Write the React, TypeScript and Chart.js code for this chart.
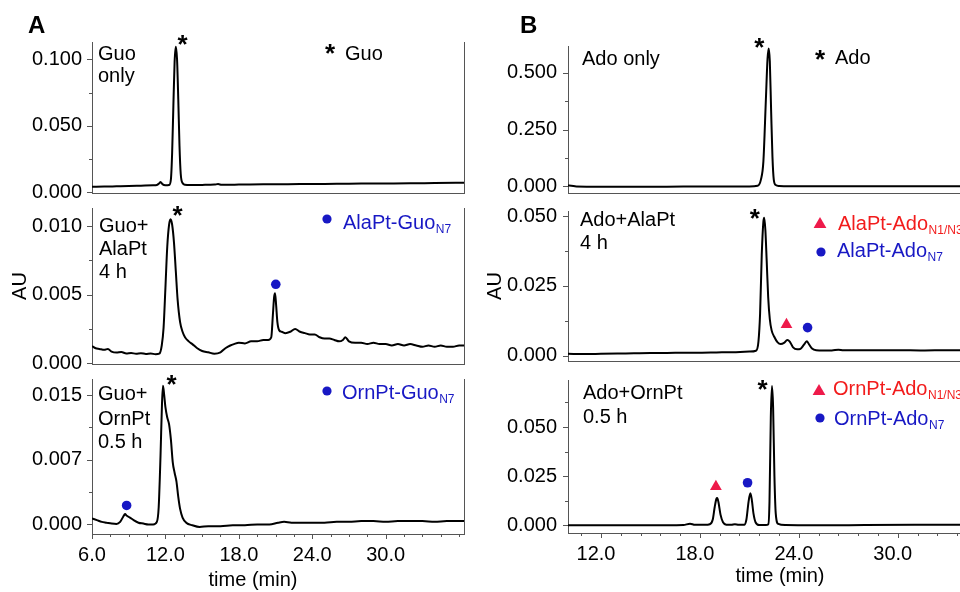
import React, { useEffect, useRef } from 'react';
import { Chart, registerables } from 'chart.js';

Chart.register(...registerables);

const FONT = "'Liberation Sans', Arial, Helvetica, sans-serif";
const AXIS = '#555555';
const BLUE = '#1818c4';
const RED_MARK = '#ee1a4a';
const RED_TEXT = '#f21c1c';

type Pt = [number, number];

// ---------------- data: [time (min), AU] ----------------
const guoOnly: Pt[] = [
  [6.0, 0.0042], [7.0, 0.0043], [8.0, 0.0045], [9.0, 0.0047], [10.0, 0.005], [11.0, 0.0053],
  [11.3, 0.0055], [11.5, 0.0068], [11.6, 0.0078], [11.75, 0.0062], [12.0, 0.0053], [12.3, 0.0055],
  [12.45, 0.01], [12.55, 0.03], [12.65, 0.065], [12.75, 0.098], [12.85, 0.1095], [12.95, 0.1],
  [13.05, 0.07], [13.15, 0.035], [13.25, 0.014], [13.4, 0.007], [13.6, 0.0057], [14.0, 0.0055],
  [15.0, 0.0056], [16.0, 0.0058], [16.3, 0.0062], [16.6, 0.0057], [18.0, 0.0058], [20.0, 0.006],
  [22.0, 0.0061], [24.0, 0.0063], [26.0, 0.0064], [28.0, 0.0066], [30.0, 0.0067], [32.0, 0.0068],
  [34.0, 0.007], [36.4, 0.0072],
];

const guoAlaPt: Pt[] = [
  [6.0, 0.00125], [6.3, 0.0011], [6.6, 0.00105], [7.0, 0.00098], [7.3, 0.00105], [7.6, 0.00085],
  [8.0, 0.00078], [8.4, 0.00082], [8.8, 0.00072], [9.2, 0.00075], [9.6, 0.0007], [10.0, 0.00074],
  [10.4, 0.00068], [10.8, 0.00072], [11.2, 0.00066], [11.5, 0.0007], [11.7, 0.0013], [11.85, 0.0026],
  [12.0, 0.0055], [12.15, 0.0085], [12.3, 0.0101], [12.42, 0.0105], [12.55, 0.0101], [12.7, 0.0088],
  [12.85, 0.0067], [13.0, 0.0046], [13.2, 0.003], [13.4, 0.0023], [13.6, 0.0019], [13.9, 0.0016],
  [14.2, 0.0014], [14.6, 0.0011], [15.0, 0.0009], [15.5, 0.0008], [16.0, 0.0007], [16.5, 0.0008],
  [16.9, 0.0011], [17.3, 0.0013], [17.6, 0.0014], [18.0, 0.0015], [18.5, 0.00145], [19.0, 0.0016],
  [19.5, 0.0016], [20.0, 0.0017], [20.4, 0.0017], [20.65, 0.0019], [20.78, 0.0035], [20.88, 0.0048],
  [20.96, 0.0051], [21.05, 0.0042], [21.15, 0.003], [21.3, 0.0024], [21.5, 0.0023], [21.8, 0.0022],
  [22.2, 0.0023], [22.6, 0.0025], [23.0, 0.0023], [23.4, 0.0022], [23.8, 0.0021], [24.2, 0.0021],
  [24.6, 0.0019], [25.0, 0.0018], [25.4, 0.0018], [25.8, 0.0017], [26.2, 0.0016], [26.5, 0.0017],
  [26.7, 0.0019], [27.0, 0.0016], [27.5, 0.0015], [28.0, 0.0015], [28.5, 0.0014], [29.0, 0.0015],
  [29.5, 0.0014], [30.0, 0.0014], [30.5, 0.0013], [31.0, 0.0014], [31.5, 0.0013], [32.0, 0.0014],
  [32.5, 0.0013], [33.0, 0.0012], [33.5, 0.0013], [34.0, 0.0012], [34.5, 0.0013], [35.0, 0.0012],
  [35.5, 0.0012], [36.0, 0.0013], [36.4, 0.0013],
];

const guoOrnPt: Pt[] = [
  [6.0, 0.0007], [6.4, 0.0005], [6.8, 0.0003], [7.2, 0.0002], [7.6, 0.0001], [8.0, 0.00005],
  [8.3, 0.0003], [8.55, 0.0009], [8.7, 0.0012], [8.85, 0.001], [9.1, 0.0008], [9.4, 0.0005],
  [9.8, 0.0002], [10.2, 0.0001], [10.6, 0.0], [11.0, 0.0], [11.3, 0.0003], [11.45, 0.002],
  [11.6, 0.008], [11.72, 0.014], [11.8, 0.0161], [11.9, 0.015], [12.0, 0.0136], [12.15, 0.0124],
  [12.3, 0.0116], [12.45, 0.0098], [12.6, 0.0072], [12.75, 0.006], [12.9, 0.005], [13.05, 0.0032],
  [13.2, 0.0018], [13.4, 0.0008], [13.7, 0.0002], [14.2, -0.0001], [14.8, -0.0003], [15.5, -0.0002],
  [16.5, -0.0002], [17.5, -0.0001], [18.5, -0.0001], [19.5, 0.0], [20.5, 0.0], [21.2, 0.0002],
  [21.7, 0.0003], [22.3, 0.0002], [23.0, 0.0002], [24.0, 0.0002], [25.0, 0.0002], [26.0, 0.0003],
  [27.0, 0.0003], [28.0, 0.0004], [29.0, 0.0004], [30.0, 0.0003], [31.0, 0.0004], [32.0, 0.0004],
  [33.0, 0.0004], [34.0, 0.0003], [35.0, 0.0004], [36.4, 0.0004],
];

const adoOnly: Pt[] = [
  [10.0, 0.004], [10.2, 0.003], [10.5, 0.0], [12.0, -0.001], [14.0, -0.001], [16.0, -0.001],
  [18.0, 0.0], [20.0, 0.0], [21.0, 0.0], [21.5, 0.003], [21.7, 0.03], [21.85, 0.11], [22.0, 0.38],
  [22.1, 0.56], [22.17, 0.607], [22.24, 0.55], [22.32, 0.33], [22.4, 0.13], [22.48, 0.03],
  [22.6, 0.006], [22.8, 0.002], [23.5, 0.001], [25.0, 0.001], [28.0, 0.001], [31.0, 0.001],
  [34.0, 0.001], [36.2, 0.001],
];

const adoAlaPt: Pt[] = [
  [10.0, 0.0006], [11.0, 0.0005], [12.0, 0.0006], [13.0, 0.0007], [14.0, 0.0008], [15.0, 0.0009],
  [16.0, 0.0009], [17.0, 0.001], [18.0, 0.001], [19.0, 0.0011], [20.0, 0.0012], [21.0, 0.0014],
  [21.4, 0.0017], [21.55, 0.005], [21.65, 0.015], [21.75, 0.036], [21.85, 0.048], [21.9, 0.0494],
  [21.97, 0.045], [22.05, 0.034], [22.14, 0.021], [22.24, 0.013], [22.35, 0.009], [22.5, 0.0068],
  [22.7, 0.0048], [22.9, 0.0041], [23.1, 0.0045], [23.3, 0.0056], [23.45, 0.005], [23.65, 0.0029],
  [23.9, 0.0022], [24.1, 0.0024], [24.3, 0.0038], [24.48, 0.0051], [24.62, 0.004], [24.8, 0.0025],
  [25.05, 0.0019], [25.5, 0.0018], [26.0, 0.0018], [26.4, 0.0021], [26.7, 0.0019], [27.5, 0.0019],
  [28.5, 0.0019], [30.0, 0.0019], [31.5, 0.0018], [33.0, 0.0019], [34.5, 0.0019], [36.2, 0.0019],
];

const adoOrnPt: Pt[] = [
  [10.0, 0.0001], [12.0, 0.0001], [14.0, 0.0001], [16.0, 0.0001], [17.0, 0.0002], [17.4, 0.0009],
  [17.7, 0.0003], [18.3, 0.0003], [18.6, 0.0006], [18.78, 0.003], [18.9, 0.0095], [19.0, 0.0135],
  [19.05, 0.0139], [19.12, 0.012], [19.25, 0.0055], [19.4, 0.0016], [19.6, 0.0004], [19.9, 0.0003],
  [20.12, 0.0006], [20.35, 0.0003], [20.7, 0.0004], [20.82, 0.003], [20.95, 0.012], [21.06, 0.0163],
  [21.14, 0.0135], [21.25, 0.006], [21.38, 0.0015], [21.6, 0.0002], [22.0, 0.0002], [22.15, 0.0006],
  [22.22, 0.012], [22.3, 0.055], [22.37, 0.0708], [22.44, 0.06], [22.52, 0.025], [22.6, 0.006],
  [22.75, 0.0008], [23.2, 0.0002], [25.0, 0.0001], [28.0, 0.0002], [31.0, 0.0003], [34.0, 0.0004],
  [36.2, 0.0004],
];

// peak markers [time, AU]
const guoAlaPtN7Dots: Pt[] = [[21.02, 0.00576]];
const guoOrnPtN7Dots: Pt[] = [[8.83, 0.0022]];
const adoAlaPtN13Tris: Pt[] = [[23.25, 0.0111]];
const adoAlaPtN7Dots: Pt[] = [[24.53, 0.01]];
const adoOrnPtN13Tris: Pt[] = [[18.97, 0.0197]];
const adoOrnPtN7Dots: Pt[] = [[20.89, 0.0217]];

// main-peak asterisks [time, AU]
const guoOnlyStar: Pt[] = [[13.4, 0.1125]];
const guoAlaPtStar: Pt[] = [[13.0, 0.0109]];
const guoOrnPtStar: Pt[] = [[12.5, 0.0165]];
const adoOnlyStar: Pt[] = [[21.6, 0.622]];
const adoAlaPtStar: Pt[] = [[21.33, 0.0498]];
const adoOrnPtStar: Pt[] = [[21.8, 0.07]];

// axis ticks
const guoTimeTicks = [6, 7.5, 9, 10.5, 12, 13.5, 15, 16.5, 18, 19.5, 21, 22.5, 24, 25.5, 27, 28.5, 30, 31.5, 33, 34.5, 36];
const guoTimeLabels = [6, 12, 18, 24, 30];
const adoTimeTicks = [10.8, 12, 13.2, 14.4, 15.6, 16.8, 18, 19.2, 20.4, 21.6, 22.8, 24, 25.2, 26.4, 27.6, 28.8, 30, 31.2, 32.4, 33.6, 34.8, 36];
const adoTimeLabels = [12, 18, 24, 30];

const guoOnlyYTicks = [0, 0.025, 0.05, 0.075, 0.1];
const guoOnlyYMajor = [0, 0.05, 0.1];
const guoOnlyYLabels = ['0.000', '0.050', '0.100'];
const guoAlaPtYTicks = [0, 0.0025, 0.005, 0.0075, 0.01];
const guoAlaPtYMajor = [0, 0.005, 0.01];
const guoAlaPtYLabels = ['0.000', '0.005', '0.010'];
const guoOrnPtYTicks = [0, 0.00375, 0.0075, 0.01125, 0.015];
const guoOrnPtYMajor = [0, 0.0075, 0.015];
const guoOrnPtYLabels = ['0.000', '0.007', '0.015'];
const adoOnlyYTicks = [0, 0.125, 0.25, 0.375, 0.5];
const adoOnlyYMajor = [0, 0.25, 0.5];
const adoOnlyYLabels = ['0.000', '0.250', '0.500'];
const adoAlaPtYTicks = [0, 0.0125, 0.025, 0.0375, 0.05];
const adoAlaPtYMajor = [0, 0.025, 0.05];
const adoAlaPtYLabels = ['0.000', '0.025', '0.050'];
const adoOrnPtYTicks = [0, 0.0125, 0.025, 0.0375, 0.05, 0.0625];
const adoOrnPtYMajor = [0, 0.025, 0.05];
const adoOrnPtYLabels = ['0.000', '0.025', '0.050'];

// ---------------- layout ----------------
interface TextItem {
  x: number; y: number; text: string; sub?: string; color?: string;
  size?: number; bold?: boolean; align?: CanvasTextAlign;
}
interface KeyMark { x: number; y: number; shape: 'dot' | 'tri' | 'star'; color: string }

interface PanelSpec {
  id: string;
  canvas: { left: number; top: number; width: number; height: number };
  plot: { left: number; top: number; right: number; bottom: number };
  xMin: number; xMax: number; yMin: number; yMax: number;
  xTicks: number[]; xMajor: number[]; showX: boolean; xLabelOffset: number;
  yTicks: number[]; yMajor: number[]; yLabels: string[]; yPad: number;
  yTitle?: string; yTitlePad?: number;
  trace: Pt[]; dots: Pt[]; tris: Pt[]; stars: Pt[];
  texts: TextItem[]; keys: KeyMark[]; rightBorder: boolean;
}

const near = (list: number[], v: number) => list.findIndex((m) => Math.abs(m - v) < 1e-9);

function drawStar(ctx: CanvasRenderingContext2D, x: number, y: number, color = '#000') {
  ctx.font = `bold 26px ${FONT}`;
  ctx.fillStyle = color;
  ctx.textAlign = 'center';
  ctx.textBaseline = 'alphabetic';
  ctx.fillText('*', x, y + 10.5);
}

function makePlugin(s: PanelSpec) {
  return {
    id: 'annot-' + s.id,
    afterDatasetsDraw(chart: any) {
      const ctx: CanvasRenderingContext2D = chart.ctx;
      const ca = chart.chartArea;
      const xs = chart.scales.x;
      const ys = chart.scales.y;
      const ox = s.canvas.left;
      const oy = s.canvas.top;
      ctx.save();
      ctx.strokeStyle = AXIS;
      ctx.lineWidth = 1;
      ctx.beginPath();
      for (const v of s.yTicks) {
        const y = Math.round(ys.getPixelForValue(v)) + 0.5;
        const len = near(s.yMajor, v) >= 0 ? 5 : 3;
        ctx.moveTo(ca.left - len, y);
        ctx.lineTo(ca.left, y);
      }
      if (s.showX) {
        for (const v of s.xTicks) {
          const x = Math.round(xs.getPixelForValue(v)) + 0.5;
          const len = near(s.xMajor, v) >= 0 ? 5 : 3;
          ctx.moveTo(x, ca.bottom);
          ctx.lineTo(x, ca.bottom + len);
        }
      }
      if (s.rightBorder) {
        const x = Math.round(ca.right) + 0.5;
        ctx.moveTo(x, ca.top);
        ctx.lineTo(x, ca.bottom);
      }
      ctx.stroke();

      for (const [t, v] of s.stars) {
        drawStar(ctx, xs.getPixelForValue(t), ys.getPixelForValue(v));
      }

      for (const k of s.keys) {
        const x = k.x - ox;
        const y = k.y - oy;
        ctx.fillStyle = k.color;
        if (k.shape === 'dot') {
          ctx.beginPath();
          ctx.arc(x, y, 4.6, 0, Math.PI * 2);
          ctx.fill();
        } else if (k.shape === 'tri') {
          ctx.beginPath();
          ctx.moveTo(x, y - 6);
          ctx.lineTo(x + 6.4, y + 5);
          ctx.lineTo(x - 6.4, y + 5);
          ctx.closePath();
          ctx.fill();
        } else {
          drawStar(ctx, x, y, k.color);
        }
      }

      for (const t of s.texts) {
        const size = t.size || 20;
        ctx.font = `${t.bold ? 'bold ' : ''}${size}px ${FONT}`;
        ctx.fillStyle = t.color || '#000';
        ctx.textAlign = t.align || 'left';
        ctx.textBaseline = 'alphabetic';
        const x = t.x - ox;
        const y = t.y - oy;
        ctx.fillText(t.text, x, y);
        if (t.sub) {
          const w = ctx.measureText(t.text).width;
          ctx.font = `${Math.round(size * 0.62)}px ${FONT}`;
          ctx.textAlign = 'left';
          ctx.fillText(t.sub, x + w + 0.5, y + 4);
        }
      }
      ctx.restore();
    },
  };
}

function buildConfig(s: PanelSpec): any {
  const c = s.canvas;
  const p = s.plot;
  const mk = (pts: Pt[]) => pts.map(([x, y]) => ({ x, y }));
  return {
    type: 'line',
    data: {
      datasets: [
        {
          data: mk(s.trace), borderColor: '#000', borderWidth: 2, pointRadius: 0,
          cubicInterpolationMode: 'monotone', fill: false, order: 3,
        },
        {
          data: mk(s.dots), showLine: false, pointRadius: 4.8, pointStyle: 'circle',
          pointBackgroundColor: BLUE, pointBorderWidth: 0, order: 1,
        },
        {
          data: mk(s.tris), showLine: false, pointRadius: 6.8, pointStyle: 'triangle',
          pointBackgroundColor: RED_MARK, pointBorderWidth: 0, order: 2,
        },
      ],
    },
    options: {
      responsive: false,
      animation: false,
      devicePixelRatio: 1,
      events: [],
      layout: {
        padding: { top: p.top - c.top, right: c.left + c.width - p.right, left: 0, bottom: 0 },
      },
      plugins: { legend: { display: false }, tooltip: { enabled: false } },
      scales: {
        x: {
          type: 'linear', min: s.xMin, max: s.xMax,
          afterBuildTicks: (sc: any) => { sc.ticks = s.xTicks.map((v) => ({ value: v })); },
          afterFit: (sc: any) => { sc.height = c.top + c.height - p.bottom; },
          ticks: {
            display: s.showX, autoSkip: false, maxRotation: 0, minRotation: 0,
            labelOffset: s.xLabelOffset, padding: 9, color: '#000',
            font: { size: 20, family: FONT },
            callback: (v: number) => (near(s.xMajor, v) >= 0 ? v.toFixed(1) : ''),
          },
          grid: { display: true, drawOnChartArea: false, drawTicks: false },
          border: { display: true, color: AXIS, width: 1 },
        },
        y: {
          type: 'linear', min: s.yMin, max: s.yMax,
          afterBuildTicks: (sc: any) => { sc.ticks = s.yTicks.map((v) => ({ value: v })); },
          afterFit: (sc: any) => { sc.width = p.left - c.left; },
          ticks: {
            autoSkip: false, padding: s.yPad, color: '#000',
            font: { size: 20, family: FONT },
            callback: (v: number) => {
              const i = near(s.yMajor, v);
              return i >= 0 ? s.yLabels[i] : '';
            },
          },
          grid: { display: true, drawOnChartArea: false, drawTicks: false },
          border: { display: true, color: AXIS, width: 1 },
          title: s.yTitle
            ? {
                display: true, text: s.yTitle, color: '#000',
                font: { size: 20, family: FONT }, padding: { top: s.yTitlePad || 0, bottom: 0 },
              }
            : { display: false },
        },
      },
    },
    plugins: [makePlugin(s)],
  };
}

const A_LEFT = 92;
const A_RIGHT = 464;
const B_LEFT = 568;
const B_RIGHT = 1000;

const panels: PanelSpec[] = [
  {
    id: 'guoOnly',
    canvas: { left: 0, top: 0, width: 480, height: 215 },
    plot: { left: A_LEFT, top: 42, right: A_RIGHT, bottom: 193 },
    xMin: 6, xMax: 36.4, yMin: -0.0005, yMax: 0.113,
    xTicks: guoTimeTicks, xMajor: guoTimeLabels, showX: false, xLabelOffset: 0,
    yTicks: guoOnlyYTicks, yMajor: guoOnlyYMajor, yLabels: guoOnlyYLabels, yPad: 10,
    trace: guoOnly, dots: [], tris: [], stars: guoOnlyStar,
    texts: [
      { x: 28, y: 33, text: 'A', bold: true, size: 24 },
      { x: 98, y: 60, text: 'Guo' },
      { x: 98, y: 82, text: 'only' },
      { x: 345, y: 60, text: 'Guo' },
    ],
    keys: [{ x: 330, y: 51, shape: 'star', color: '#000' }],
    rightBorder: true,
  },
  {
    id: 'guoAlaPt',
    canvas: { left: 0, top: 186, width: 480, height: 200 },
    plot: { left: A_LEFT, top: 206, right: A_RIGHT, bottom: 364 },
    xMin: 6, xMax: 36.4, yMin: -0.00005, yMax: 0.01132,
    xTicks: guoTimeTicks, xMajor: guoTimeLabels, showX: false, xLabelOffset: 0,
    yTicks: guoAlaPtYTicks, yMajor: guoAlaPtYMajor, yLabels: guoAlaPtYLabels, yPad: 10,
    yTitle: 'AU', yTitlePad: 8,
    trace: guoAlaPt, dots: guoAlaPtN7Dots, tris: [], stars: guoAlaPtStar,
    texts: [
      { x: 99, y: 232, text: 'Guo+' },
      { x: 99, y: 255, text: 'AlaPt' },
      { x: 99, y: 278, text: '4 h' },
      { x: 343, y: 229, text: 'AlaPt-Guo', sub: 'N7', color: BLUE },
    ],
    keys: [{ x: 327, y: 219, shape: 'dot', color: BLUE }],
    rightBorder: true,
  },
  {
    id: 'guoOrnPt',
    canvas: { left: 0, top: 357, width: 480, height: 235 },
    plot: { left: A_LEFT, top: 377, right: A_RIGHT, bottom: 534 },
    xMin: 6, xMax: 36.4, yMin: -0.00111, yMax: 0.01687,
    xTicks: guoTimeTicks, xMajor: guoTimeLabels, showX: true, xLabelOffset: 0,
    yTicks: guoOrnPtYTicks, yMajor: guoOrnPtYMajor, yLabels: guoOrnPtYLabels, yPad: 10,
    trace: guoOrnPt, dots: guoOrnPtN7Dots, tris: [], stars: guoOrnPtStar,
    texts: [
      { x: 98, y: 400, text: 'Guo+' },
      { x: 98, y: 425, text: 'OrnPt' },
      { x: 98, y: 448, text: '0.5 h' },
      { x: 342, y: 399, text: 'OrnPt-Guo', sub: 'N7', color: BLUE },
      { x: 253, y: 586, text: 'time (min)', align: 'center' },
    ],
    keys: [{ x: 327, y: 391, shape: 'dot', color: BLUE }],
    rightBorder: true,
  },
  {
    id: 'adoOnly',
    canvas: { left: 480, top: 0, width: 540, height: 216 },
    plot: { left: B_LEFT, top: 46, right: B_RIGHT, bottom: 196 },
    xMin: 10, xMax: 36.2, yMin: -0.029, yMax: 0.6177,
    xTicks: adoTimeTicks, xMajor: adoTimeLabels, showX: false, xLabelOffset: -5,
    yTicks: adoOnlyYTicks, yMajor: adoOnlyYMajor, yLabels: adoOnlyYLabels, yPad: 11,
    trace: adoOnly, dots: [], tris: [], stars: adoOnlyStar,
    texts: [
      { x: 520, y: 33, text: 'B', bold: true, size: 24 },
      { x: 582, y: 65, text: 'Ado only' },
      { x: 835, y: 64, text: 'Ado' },
    ],
    keys: [{ x: 820, y: 57, shape: 'star', color: '#000' }],
    rightBorder: true,
  },
  {
    id: 'adoAlaPt',
    canvas: { left: 480, top: 188, width: 540, height: 196 },
    plot: { left: B_LEFT, top: 208, right: B_RIGHT, bottom: 364 },
    xMin: 10, xMax: 36.2, yMin: -0.00197, yMax: 0.0518,
    xTicks: adoTimeTicks, xMajor: adoTimeLabels, showX: false, xLabelOffset: -5,
    yTicks: adoAlaPtYTicks, yMajor: adoAlaPtYMajor, yLabels: adoAlaPtYLabels, yPad: 11,
    yTitle: 'AU', yTitlePad: 3,
    trace: adoAlaPt, dots: adoAlaPtN7Dots, tris: adoAlaPtN13Tris, stars: adoAlaPtStar,
    texts: [
      { x: 580, y: 226, text: 'Ado+AlaPt' },
      { x: 580, y: 249, text: '4 h' },
      { x: 838, y: 230, text: 'AlaPt-Ado', sub: 'N1/N3', color: RED_TEXT },
      { x: 837, y: 257, text: 'AlaPt-Ado', sub: 'N7', color: BLUE },
    ],
    keys: [
      { x: 820, y: 223, shape: 'tri', color: RED_MARK },
      { x: 821, y: 252, shape: 'dot', color: BLUE },
    ],
    rightBorder: true,
  },
  {
    id: 'adoOrnPt',
    canvas: { left: 480, top: 357, width: 540, height: 235 },
    plot: { left: B_LEFT, top: 377, right: B_RIGHT, bottom: 533 },
    xMin: 10, xMax: 36.2, yMin: -0.00384, yMax: 0.0739,
    xTicks: adoTimeTicks, xMajor: adoTimeLabels, showX: true, xLabelOffset: -5,
    yTicks: adoOrnPtYTicks, yMajor: adoOrnPtYMajor, yLabels: adoOrnPtYLabels, yPad: 11,
    trace: adoOrnPt, dots: adoOrnPtN7Dots, tris: adoOrnPtN13Tris, stars: adoOrnPtStar,
    texts: [
      { x: 583, y: 399, text: 'Ado+OrnPt' },
      { x: 583, y: 423, text: '0.5 h' },
      { x: 833, y: 395, text: 'OrnPt-Ado', sub: 'N1/N3', color: RED_TEXT },
      { x: 834, y: 425, text: 'OrnPt-Ado', sub: 'N7', color: BLUE },
      { x: 780, y: 582, text: 'time (min)', align: 'center' },
    ],
    keys: [
      { x: 819, y: 390, shape: 'tri', color: RED_MARK },
      { x: 820, y: 418, shape: 'dot', color: BLUE },
    ],
    rightBorder: true,
  },
];

function Panel({ spec }: { spec: PanelSpec }) {
  const ref = useRef<HTMLCanvasElement | null>(null);
  useEffect(() => {
    if (!ref.current) return;
    const chart = new Chart(ref.current, buildConfig(spec));
    return () => chart.destroy();
  }, [spec]);
  const c = spec.canvas;
  return (
    <canvas
      ref={ref}
      width={c.width}
      height={c.height}
      style={{ position: 'absolute', left: c.left, top: c.top, width: c.width, height: c.height }}
    />
  );
}

export default function App() {
  return (
    <div
      style={{
        position: 'fixed', left: 0, top: 0, width: 960, height: 592,
        overflow: 'hidden', background: '#ffffff',
      }}
    >
      {panels.map((p) => (
        <Panel key={p.id} spec={p} />
      ))}
    </div>
  );
}
